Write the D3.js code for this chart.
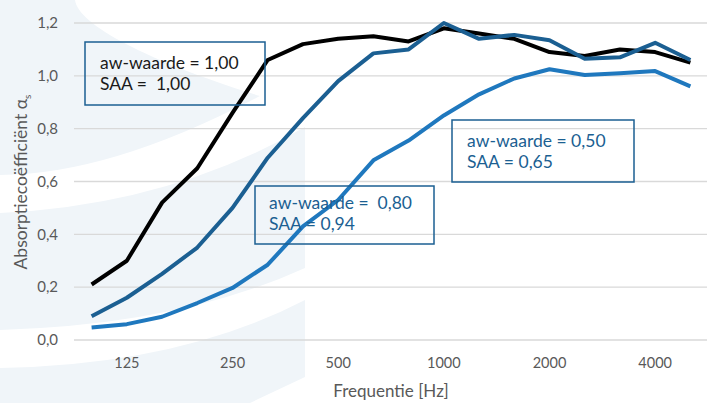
<!DOCTYPE html>
<html>
<head>
<meta charset="utf-8">
<script src="https://cdn.jsdelivr.net/npm/d3@7"></script>
<style>
  html, body { margin: 0; padding: 0; background: #fff; }
  svg { display: block; }
  text { font-family: Lato, "Open Sans", sans-serif; }
</style>
</head>
<body>
<svg id="chart"></svg>
<script>
// third-octave bands
const freqs = ['100', '125', '160', '200', '250', '315', '400', '500', '630', '800',
	'1000', '1250', '1600', '2000', '2500', '3150', '4000', '5000']
const tickLabels = ['125', '250', '500', '1000', '2000', '4000']
const yTicks = [0, 0.2, 0.4, 0.6, 0.8, 1.0, 1.2]

const aw100 = [0.21, 0.30, 0.52, 0.65, 0.86, 1.06, 1.12, 1.14, 1.15, 1.13,
	1.18, 1.16, 1.14, 1.09, 1.075, 1.10, 1.09, 1.05]
const aw080 = [0.09, 0.16, 0.25, 0.35, 0.50, 0.69, 0.84, 0.98, 1.085, 1.10,
	1.20, 1.14, 1.155, 1.135, 1.065, 1.07, 1.125, 1.06]
const aw050 = [0.047, 0.06, 0.088, 0.14, 0.197, 0.285, 0.43, 0.53, 0.68, 0.755,
	0.85, 0.93, 0.99, 1.025, 1.003, 1.01, 1.018, 0.96]

const series = [
	{name: 'aw100', values: aw100, color: '#000000'},
	{name: 'aw080', values: aw080, color: '#1b5f92'},
	{name: 'aw050', values: aw050, color: '#1f78be'}
]

const labels = [
	{lines: ['aw-waarde = 1,00', 'SAA =  1,00'], color: '#1a1a1a', box: [85, 42, 180, 63], tx: 100, ty: 69},
	{lines: ['aw-waarde =  0,80', 'SAA = 0,94'], color: '#1b5f92', box: [255, 186, 179, 58], tx: 269, ty: 209},
	{lines: ['aw-waarde = 0,50', 'SAA = 0,65'], color: '#1b5f92', box: [452, 120, 182, 62], tx: 467, ty: 147}
]

const width = 707
const height = 403
const margin = {top: 23, right: 0, bottom: 63, left: 74}

const svg = d3.select('#chart')
	.attr('width', width)
	.attr('height', height)

// faint logo watermark behind the chart
const wm = svg.append('g').attr('fill', '#f0f5f9')
wm.append('path').attr('d', 'M0,0 L75,0 C78,25 150,62 260,96 Q110,175 0,175 Z')
wm.append('path').attr('d', 'M0,213 Q170,205 305,127 L305,268 Q180,325 0,330 Z')
wm.append('path').attr('d', 'M0,368 Q180,365 305,300 L305,377 L250,403 L0,403 Z')

const x = d3.scaleBand()
	.domain(freqs)
	.range([margin.left, width + 1])

const y = d3.scaleLinear()
	.domain([0, 1.2])
	.range([height - margin.bottom, margin.top])

// grid
svg.append('g')
	.selectAll('line')
	.data(yTicks)
	.join('line')
	.attr('x1', margin.left)
	.attr('x2', width)
	.attr('y1', d => y(d))
	.attr('y2', d => y(d))
	.attr('stroke', '#d9d9d9')
	.attr('stroke-width', 1.3)

// y axis labels
const yAxis = svg.append('g')
	.attr('transform', `translate(${margin.left}, 0)`)
	.call(d3.axisLeft(y).tickValues(yTicks).tickSize(0).tickPadding(16)
		.tickFormat(d => d3.format('.1f')(d).replace('.', ',')))
yAxis.select('.domain').remove()
yAxis.selectAll('text')
	.attr('fill', '#595959')
	.style('font-size', '15px')

// x axis labels
const xAxis = svg.append('g')
	.attr('transform', `translate(0, ${height - margin.bottom})`)
	.call(d3.axisBottom(x).tickValues(tickLabels).tickSize(0).tickPadding(18))
xAxis.select('.domain').remove()
xAxis.selectAll('text')
	.attr('fill', '#595959')
	.style('font-size', '14.5px')

// axis titles
svg.append('text')
	.attr('x', 391)
	.attr('y', 397)
	.attr('text-anchor', 'middle')
	.attr('fill', '#595959')
	.style('font-size', '17px')
	.text('Frequentie [Hz]')

const yTitle = svg.append('text')
	.attr('transform', 'translate(27, 182) rotate(-90)')
	.attr('text-anchor', 'middle')
	.attr('fill', '#595959')
	.style('font-size', '17.5px')
yTitle.append('tspan').text('Absorptiecoëfficiënt α')
yTitle.append('tspan').attr('dy', 4).style('font-size', '10px').text('s')

// lines
const line = d3.line()
	.x((d, i) => x(freqs[i]) + x.bandwidth() / 2)
	.y(d => y(d))

svg.append('g')
	.selectAll('path')
	.data(series)
	.join('path')
	.attr('fill', 'none')
	.attr('stroke', d => d.color)
	.attr('stroke-width', 4)
	.attr('stroke-linejoin', 'round')
	.attr('d', d => line(d.values))

// annotation boxes
const ann = svg.append('g')
	.selectAll('g')
	.data(labels)
	.join('g')

ann.append('rect')
	.attr('x', d => d.box[0])
	.attr('y', d => d.box[1])
	.attr('width', d => d.box[2])
	.attr('height', d => d.box[3])
	.attr('fill', 'none')
	.attr('stroke', '#1b5f92')
	.attr('stroke-width', 1.5)

ann.each(function (d) {
	const t = d3.select(this).append('text')
		.attr('fill', d.color)
		.style('font-size', '17.5px')
	d.lines.forEach((s, i) => {
		t.append('tspan')
			.attr('x', d.tx)
			.attr('y', d.ty + i * 21)
			.style('white-space', 'pre')
			.text(s)
	})
})
</script>
</body>
</html>
